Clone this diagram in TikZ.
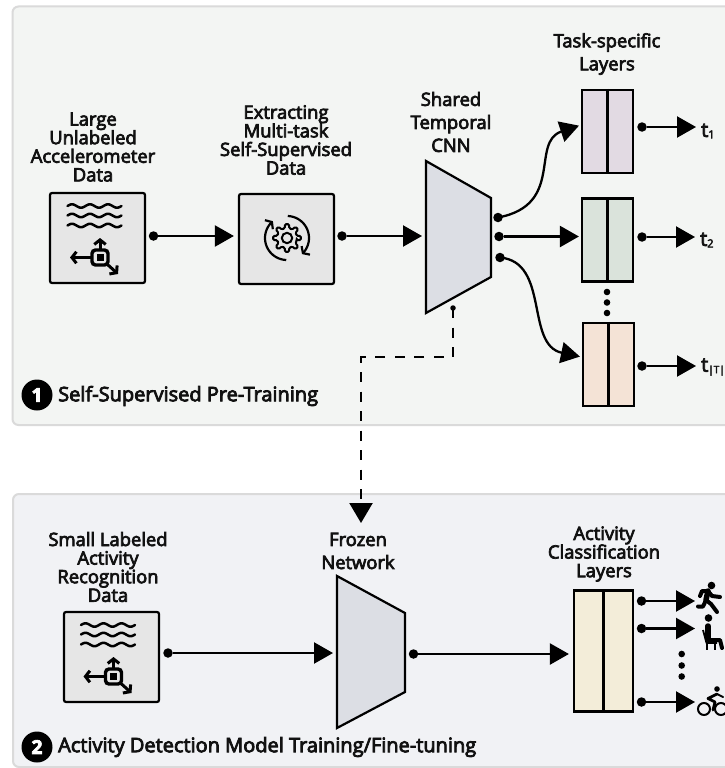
\documentclass[tikz,border=0pt]{standalone}
\usepackage{fontspec}
\setmainfont{Open Sans}[FakeBold=4]
\usetikzlibrary{arrows.meta,calc}
\definecolor{toppanel}{HTML}{F3F5F3}
\definecolor{botpanel}{HTML}{F1F2F5}
\definecolor{panelrule}{HTML}{DADADA}
\definecolor{boxgray}{HTML}{E6E6E6}
\definecolor{trapfill}{HTML}{DCDEE4}
\definecolor{layerpurple}{HTML}{E2DAE3}
\definecolor{layergreen}{HTML}{DAE3DB}
\definecolor{layerorange}{HTML}{F4E3D6}
\definecolor{layercream}{HTML}{F3EDD9}
\definecolor{inkdark}{HTML}{111111}
\newcommand{\tsub}[1]{{\fontsize{11}{11}\selectfont\raisebox{-1.5pt}{#1}}}
\newcommand{\wavesicon}[2]{%
  \begin{scope}[shift={(#1,#2)}]
    \foreach \wy in {-21,-11.5,-1.5}{
      \draw[line width=2.5pt,line cap=round,black] plot[domain=-27:27,samples=70,smooth] (\x,{\wy+1.7*sin(\x*20)});
    }
    \draw[line width=3.4pt,rounded corners=3.5pt,black] (-2.5,23) rectangle (13.5,38);
    \fill[black] (2,27) rectangle (9,34);
    \draw[line width=3pt,-{Straight Barb[length=4.5pt,width=11.5pt]}] (5.5,22) -- (5.5,11);
    \draw[line width=3pt,-{Straight Barb[length=4.5pt,width=11.5pt]}] (-3,30.5) -- (-24.5,30.5);
    \draw[line width=3pt,-{Straight Barb[length=4.5pt,width=11.5pt]}] (13,37.5) -- (23.5,47);
  \end{scope}}
\tikzset{
  x=1pt,y=-1pt,
  lbl/.style={font=\fontsize{18.4}{18.6}\selectfont,align=center,inner sep=0pt,text=inkdark},
  lblwide/.style={font=\fontsize{18.4}{23}\selectfont,align=center,inner sep=0pt,text=inkdark},
  titlelbl/.style={font=\fontsize{20}{22}\selectfont,anchor=west,inner sep=0pt,text=inkdark},
  panel/.style={draw=panelrule,line width=2pt,rounded corners=6pt},
  iconbox/.style={draw=black,line width=2.2pt,fill=boxgray,rounded corners=2pt,minimum width=95pt,minimum height=90pt,inner sep=0pt},
  layerbox/.style={draw=black,line width=2.2pt,inner sep=0pt,minimum width=51pt,minimum height=83pt},
  joint/.style={circle,fill=black,minimum size=9.5pt,inner sep=0pt},
  smalljoint/.style={circle,fill=black,minimum size=6.6pt,inner sep=0pt},
  tinyjoint/.style={circle,fill=black,minimum size=5.5pt,inner sep=0pt},
  badge/.style={circle,fill=black,text=white,minimum size=31pt,inner sep=0pt,font=\fontsize{19}{19}\selectfont\bfseries},
  arr/.style={line width=2.3pt,black,-{Triangle[length=19pt,width=21pt]}},
  trap/.style={draw=black,line width=2.2pt,fill=trapfill,line join=miter},
  tlab/.style={anchor=west,inner sep=0pt,font=\fontsize{20}{20}\selectfont,text=inkdark},
  limb/.style={line width=4pt,line cap=round,line join=round,black},
}
\begin{document}
\begin{tikzpicture}
\path[use as bounding box] (0,0) rectangle (725,768);
\clip (0,0) rectangle (725,768);
\fill[white] (0,0) rectangle (725,768);
% panels
\draw[panel,fill=toppanel] (12.5,6.5) rectangle (745,425);
\draw[panel,fill=botpanel] (13,494) rectangle (745,767);
% top labels
\node[lbl] (lA) at (93,147) {Large\\Unlabeled\\Accelerometer\\Data};
\node[lbl] (lB) at (286,140) {Extracting\\Multi-task\\Self-Supervised\\Data};
\node[lblwide] (lC) at (451,122) {Shared\\Temporal\\CNN};
\node[lblwide] (lD) at (607,54) {Task-specific\\Layers};
% top boxes
\node[iconbox] (bA) at (97.5,238) {};
\node[iconbox] (bB) at (286.5,239) {};
\wavesicon{94.5}{227}
% gear icon
\draw[line width=2pt,black,rounded corners=1.2pt]
  ({287+10*cos(-13)},{238-10*sin(-13)})
  \foreach \k in {0,45,...,315}{
    -- ({287+10*cos(\k-13)},{238-10*sin(\k-13)})
    -- ({287+14*cos(\k-8)},{238-14*sin(\k-8)})
    -- ({287+14*cos(\k+8)},{238-14*sin(\k+8)})
    -- ({287+10*cos(\k+13)},{238-10*sin(\k+13)})
  } -- cycle;
\draw[line width=2pt,black] (287,238) circle[radius=5.2];
\draw[line width=2.2pt,black,-{Straight Barb[length=4pt,width=12pt]}] plot[domain=268:130,samples=30,smooth] ({287+22*cos(\x)},{238-22*sin(\x)});
\draw[line width=2.2pt,black,-{Straight Barb[length=4pt,width=12pt]}] plot[domain=88:-47,samples=30,smooth] ({287+22*cos(\x)},{238-22*sin(\x)});
% trapezoid top
\draw[trap] (426,161) -- (491,198) -- (491,277) -- (426,313) -- cycle;
\coordinate (trapAw) at (426,236);
% layers top
\node[layerbox,fill=layerpurple] (r1) at (607.5,131.5) {};
\node[layerbox,fill=layergreen] (r2) at (607.5,240) {};
\node[layerbox,fill=layerorange] (r3) at (608.5,364.5) {};
\draw[line width=2.2pt] (r1.north) -- (r1.south);
\draw[line width=2.2pt] (r2.north) -- (r2.south);
\draw[line width=2.2pt] (r3.north) -- (r3.south);
% joints
\node[joint] (jA) at (153.5,236) {};
\node[joint] (jB) at (342,236) {};
\node[joint] (jC1) at (498,217.5) {};
\node[joint] (jC2) at (499,236.5) {};
\node[joint] (jC3) at (500,257.5) {};
\node[joint] (o1) at (642,127) {};
\node[joint] (o2) at (642,237) {};
\node[joint] (o3) at (642,366) {};
% connectors top
\draw[arr,shorten >=4pt] (jA) -- (jA -| bB.west);
\draw[arr] (jB) -- (422,236);
\draw[arr,shorten >=2pt] (jC1.center) .. controls (565,205) and (530,142) .. (r1.west |- 0,125);
\draw[arr,shorten >=2pt] (jC2) -- (r2.west |- jC2);
\draw[arr,shorten >=2pt] (jC3.center) .. controls (550,262) and (525,345) .. (r3.west |- 0,357);
% outputs top
\node[tlab] (t1) at (701,131) {t\tsub{1}};
\node[tlab] (t2) at (700,240) {t\tsub{2}};
\node[tlab] (t3) at (701,367) {t{\fontsize{10}{10}\selectfont\raisebox{-1.5pt}{|T|}}};
\draw[arr,shorten >=5pt] (o1) -- (o1 -| t1.west);
\draw[arr,shorten >=5pt] (o2) -- (o2 -| t2.west);
\draw[arr,shorten >=5pt] (o3) -- (o3 -| t3.west);
\node[smalljoint] (v1) at (607,292) {};
\node[smalljoint] (v2) at (607,302.5) {};
\node[smalljoint] (v3) at (607,313) {};
% titles
\node[badge] (b1) at (37,395) {1};
\node[titlelbl] (T1) at (58,396) {Self-Supervised Pre-Training};
\node[badge] (b2) at (37,747) {2};
\node[titlelbl] (T2) at (58,747) {Activity Detection Model Training/Fine-tuning};
% dashed link
\node[tinyjoint] (ds) at (453,308) {};
\coordinate (dc1) at (453,357);
\coordinate (dc2) at (361,357);
\coordinate (de) at (361,523);
\draw[line width=2.3pt,black,dash pattern=on 10pt off 9.5pt,-{Triangle[length=20pt,width=23pt]}] (ds.center) -- (dc1) -- (dc2) -- (de);
% bottom labels
\node[lbl] (lE) at (108,567) {Small Labeled\\Activity\\Recognition\\Data};
\node[lblwide] (lF) at (358,551) {Frozen\\Network};
\node[lbl] (lG) at (604,554) {Activity\\Classification\\Layers};
% bottom box
\node[iconbox] (bC) at (111.5,657) {};
\wavesicon{108}{646}
% bottom trapezoid
\draw[trap] (337,576) -- (405,613) -- (405,692) -- (337,728) -- cycle;
\coordinate (trapBw) at (337,653);
% classifier
\node[layerbox,fill=layercream,minimum width=59pt,minimum height=121pt] (r4) at (603.5,651) {};
\draw[line width=2.2pt] (r4.north) -- (r4.south);
\node[joint] (jE) at (168,653) {};
\node[joint] (jF) at (413.5,654) {};
\draw[arr,shorten >=4pt] (jE) -- (trapBw);
\draw[arr,shorten >=4pt] (jF) -- (jF -| r4.west);
\node[joint] (p1) at (641.5,601) {};
\node[joint] (p2) at (641.5,628.5) {};
\node[joint] (p3) at (641.5,702) {};
\coordinate (q1) at (695,601);
\coordinate (q2) at (695,628.5);
\coordinate (q3) at (695,702);
\draw[arr] (p1) -- (q1);
\draw[arr] (p2) -- (q2);
\draw[arr] (p3) -- (q3);
\node[smalljoint] (w1) at (681.7,654) {};
\node[smalljoint] (w2) at (681.7,665.5) {};
\node[smalljoint] (w3) at (681.7,676.5) {};
% runner
\fill[black] (711.5,585.5) circle[radius=3.8];
\draw[limb,line width=5.5pt] (708,591) -- (706,600);
\draw[limb] (700,596) -- (702,591) -- (708,591) -- (712,596) -- (720,597);
\draw[limb] (706,600) -- (711,604) -- (717,612);
\draw[limb] (706,600) -- (703,606.5) -- (698,606.5);
% sitting person
\fill[black] (708.5,618) circle[radius=3.8];
\draw[limb,line width=5.5pt] (708,626) -- (708,639);
\draw[limb] (708,640) -- (720,640) -- (722,648);
\draw[line width=1.8pt,black,line join=round] (703,630) -- (706.5,643) -- (717,643);
\draw[line width=1.8pt,black] (707,643) -- (707,650);
\draw[line width=1.8pt,black] (715,643) -- (715,650);
% cyclist
\fill[black] (717,689) circle[radius=2.8];
\draw[line width=2pt,black] (704,709) circle[radius=6];
\draw[line width=2pt,black] (721,709) circle[radius=6];
\draw[limb,line width=2.8pt] (717,694) -- (708,698.5) -- (715,702) -- (713,710);
\draw[limb,line width=2pt] (717,694) -- (723,697);
\end{tikzpicture}
\end{document}
